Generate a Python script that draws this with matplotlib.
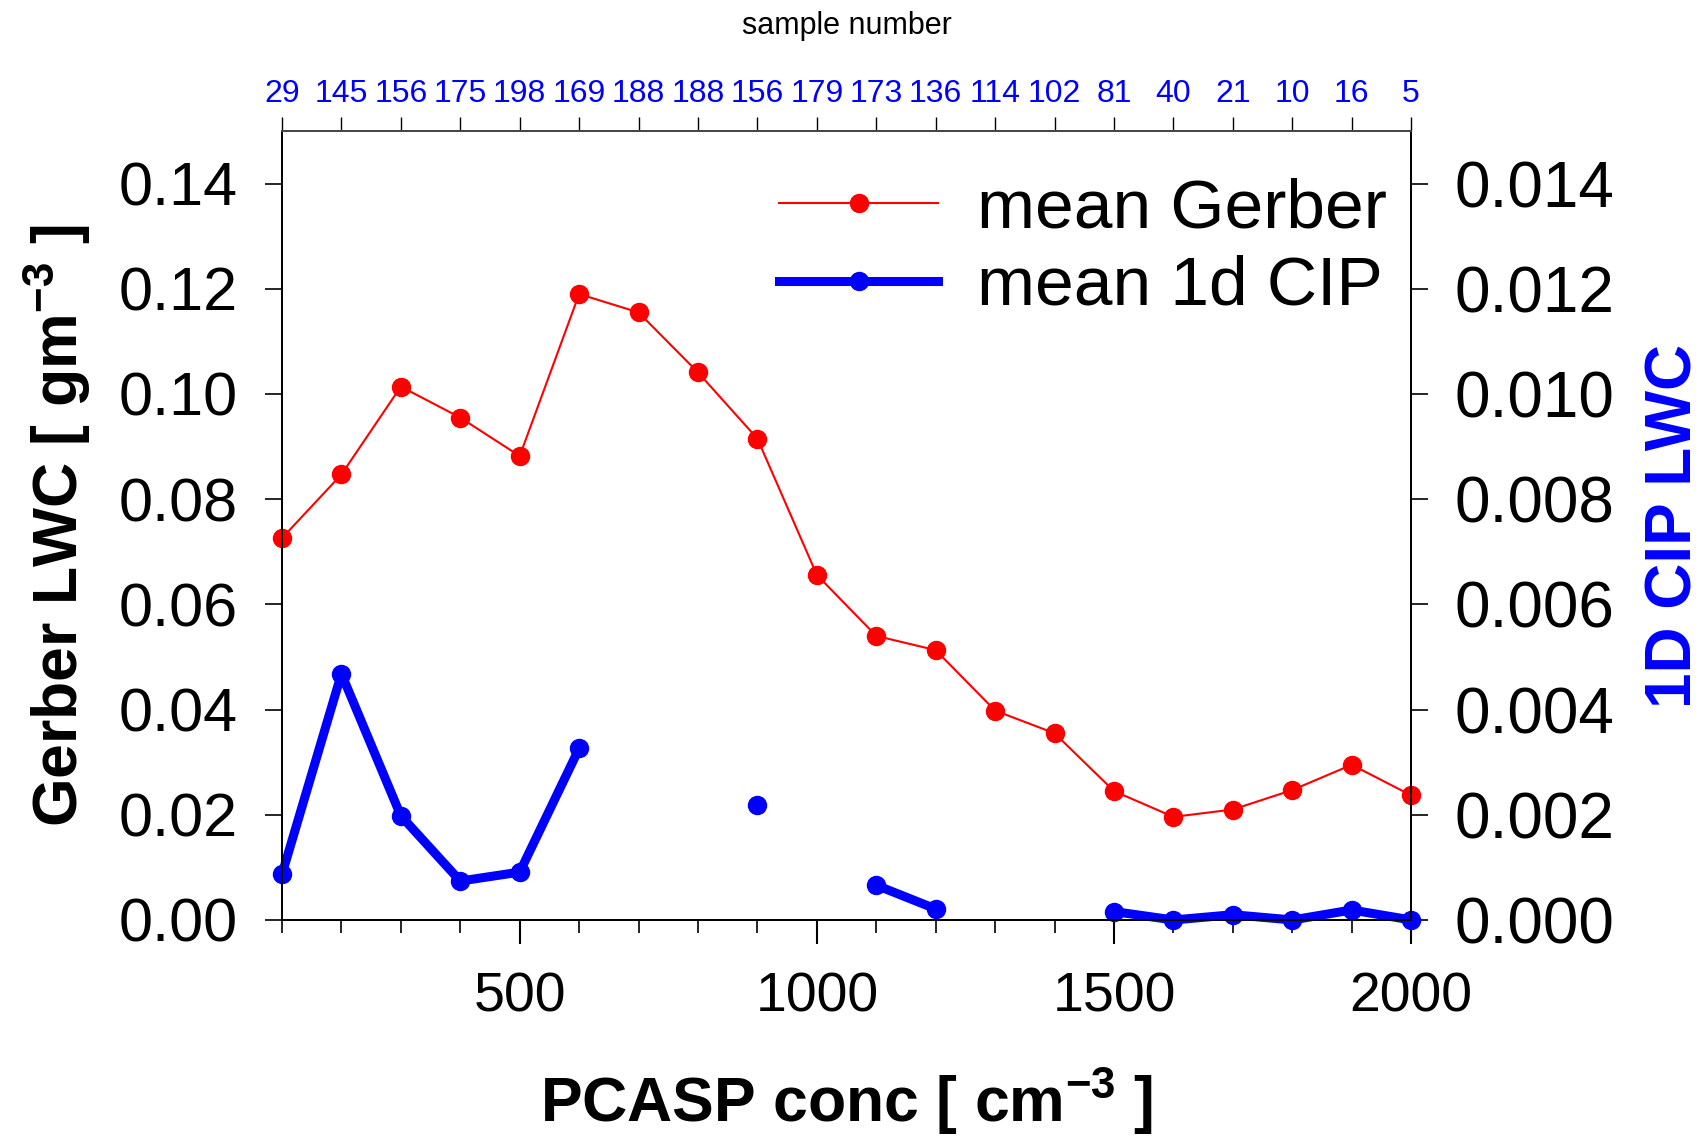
import numpy as np
import matplotlib
matplotlib.use("Agg")
from matplotlib import pyplot as plt

plt.rcParams['font.family'] = ['Liberation Sans', 'DejaVu Sans']
plt.rcParams['mathtext.fontset'] = 'custom'
plt.rcParams['mathtext.rm'] = 'Liberation Sans'
plt.rcParams['mathtext.bf'] = 'Liberation Sans:bold'

pcasp = [100, 200, 300, 400, 500, 600, 700, 800, 900, 1000,
         1100, 1200, 1300, 1400, 1500, 1600, 1700, 1800, 1900, 2000]
gerber = [0.0726, 0.0847, 0.1014, 0.0955, 0.0882, 0.1190, 0.1155, 0.1041, 0.0915, 0.0656,
          0.0540, 0.0513, 0.0398, 0.0355, 0.0245, 0.0196, 0.0210, 0.0247, 0.0295, 0.0237]
cip = [0.00087, 0.00468, 0.00198, 0.00074, 0.00091, 0.00326, np.nan, np.nan, 0.00219, np.nan,
       0.00066, 0.00021, np.nan, np.nan, 0.00016, 0.0, 0.0001, 0.0, 0.00019, 0.0]
samples = [29, 145, 156, 175, 198, 169, 188, 188, 156, 179,
           173, 136, 114, 102, 81, 40, 21, 10, 16, 5]

fig = plt.figure(figsize=(17.03, 11.39), dpi=100)
ax = fig.add_axes([0.1656, 0.1923, 0.663, 0.6927])
ax2 = ax.twinx()
ax3 = ax.twiny()

l1, = ax.plot(pcasp, gerber, color='red', lw=1.5, marker='o', ms=13, label='mean Gerber',
              clip_on=False)
l2, = ax2.plot(pcasp, cip, color='blue', lw=6.5, marker='o', ms=13, label='mean 1d CIP',
               clip_on=False)

ax.set_xlim(100, 2000)
ax.set_ylim(0, 0.15)
ax2.set_ylim(0, 0.015)
ax3.set_xlim(100, 2000)

ax.set_xticks([500, 1000, 1500, 2000])
ax.set_xticks(pcasp, minor=True)
ax.set_yticks(np.arange(0, 0.141, 0.02))
ax.set_yticklabels(['%.2f' % v for v in np.arange(0, 0.141, 0.02)])
ax2.set_yticks(np.arange(0, 0.0141, 0.002))
ax2.set_yticklabels(['%.3f' % v for v in np.arange(0, 0.0141, 0.002)])

ax.tick_params(axis='x', which='major', length=17, width=1.5, labelsize=40, pad=20)
ax.tick_params(axis='x', which='minor', length=9, width=1.2)
ax.tick_params(axis='y', length=12, width=1.2, labelsize=44, pad=20)
ax2.tick_params(axis='y', length=12, width=1.2, labelsize=46, pad=19)

ax3.set_xticks(pcasp)
ax3.set_xticklabels([str(s) for s in samples], color='blue')
ax3.tick_params(axis='x', length=10, width=1, labelsize=23, pad=6)
ax3.set_xlabel('sample number', fontsize=22, labelpad=32)

ax.set_xlabel('PCASP conc [ cm$^{\\mathbf{-3}}$ ]', fontsize=45, fontweight='bold', labelpad=30)
ax.set_ylabel('Gerber LWC [ gm$^{\\mathbf{-3}}$ ]', fontsize=45, fontweight='bold', labelpad=18)
ax2.set_ylabel('1D CIP LWC', fontsize=46, fontweight='bold', color='blue', labelpad=22)

for a in (ax, ax2, ax3):
    for s in a.spines.values():
        s.set_linewidth(1.2)
ax3.spines['top'].set_color('#555555')

ax2.legend(handles=[l1, l2], loc='upper right', bbox_to_anchor=(1.012, 0.99),
           frameon=False, fontsize=50, handlelength=2.3, handletextpad=0.55,
           borderaxespad=0.15, labelspacing=0.2)

fig.savefig('out.png', dpi=100)
